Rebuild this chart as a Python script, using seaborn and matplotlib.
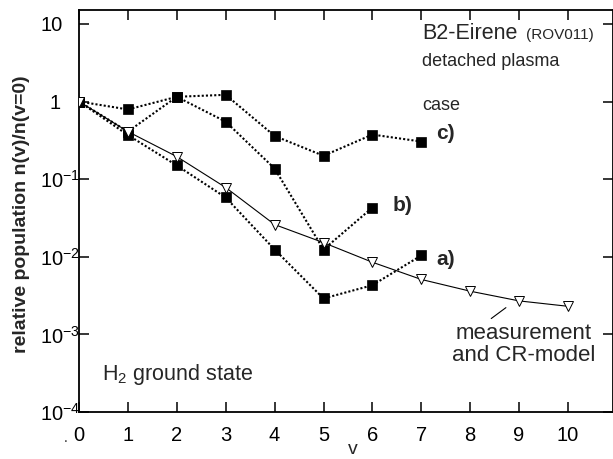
import numpy as np
import pandas as pd
import matplotlib
matplotlib.use("Agg")
import matplotlib.pyplot as plt
import matplotlib.transforms as mtransforms
import seaborn as sns

# vibrational level v and relative populations n(v)/n(v=0)
v_levels = list(range(11))
case_a = [1.0, 0.37, 0.150, 0.058, 0.0124, 0.0029, 0.0043, 0.0104]
case_b = [1.0, 0.41, 1.15, 0.55, 0.137, 0.0124, 0.043]
case_c = [1.0, 0.79, 1.15, 1.22, 0.36, 0.20, 0.375, 0.305]
cr_model = [1.0, 0.41, 0.195, 0.078, 0.026, 0.0152, 0.0085, 0.0051, 0.0036, 0.0027, 0.0023]

y_ticks = [1e-4, 1e-3, 1e-2, 1e-1, 1, 10]
y_tick_labels = ["10$^{-4}$", "10$^{-3}$", "10$^{-2}$", "10$^{-1}$", "1", "10"]
x_ticks = list(range(11))

sns.set_theme(style="ticks")
plt.rcParams["font.family"] = ["Liberation Sans", "DejaVu Sans"]
plt.rcParams["mathtext.fontset"] = "custom"
plt.rcParams["mathtext.rm"] = "Liberation Sans"
plt.rcParams["mathtext.it"] = "Liberation Sans:italic"
plt.rcParams["mathtext.bf"] = "Liberation Sans:bold"

fig = plt.figure(figsize=(6.13, 4.59), dpi=100)
ax = fig.add_axes([79 / 613, 47 / 459, 534 / 613, 402 / 459])

dotted = (0, (1, 1))
for vals in (case_a, case_b, case_c):
    df = pd.DataFrame({"v": v_levels[:len(vals)], "pop": vals})
    sns.lineplot(data=df, x="v", y="pop", ax=ax, color="black", linewidth=1.5,
                 linestyle=dotted, marker="s", markersize=6.5,
                 markerfacecolor="black", markeredgecolor="black",
                 markeredgewidth=0.5, sort=False, estimator=None, zorder=2)

df_cr = pd.DataFrame({"v": v_levels, "pop": cr_model})
sns.lineplot(data=df_cr, x="v", y="pop", ax=ax, color="black", linewidth=0.8,
             marker="v", markersize=7, markerfacecolor="white",
             markeredgecolor="black", markeredgewidth=0.7,
             sort=False, estimator=None, zorder=3)

ax.set_yscale("log")
ax.set_xlim(0, 10.92)
ax.set_ylim(1e-4, 15.1)
ax.set_xticks(x_ticks)
ax.set_xticklabels([str(t) for t in x_ticks])
ax.set_yticks(y_ticks)
ax.set_yticklabels(y_tick_labels)
ax.yaxis.set_minor_locator(matplotlib.ticker.NullLocator())

ax.tick_params(axis="both", which="major", direction="in", length=7, width=1.1,
               top=True, right=True, labelsize=14.5, colors="black")
ax.tick_params(axis="x", pad=10)
ax.tick_params(axis="y", pad=28)
for lab in ax.get_yticklabels():
    lab.set_horizontalalignment("left")
    if lab.get_text() == "1":
        lab.set_transform(lab.get_transform() +
                          mtransforms.ScaledTranslation(0.09, 0, fig.dpi_scale_trans))
for sp in ax.spines.values():
    sp.set_linewidth(1.3)
    sp.set_color("black")

ax.set_xlabel("v", fontsize=14)
ax.xaxis.set_label_coords(0.513, -0.104)
ax.xaxis.label.set_va("baseline")
ax.set_ylabel("relative population n(v)/n(v=0)", fontsize=14, fontweight="bold")
ax.yaxis.set_label_coords(-0.107, 0.4925)
ax.yaxis.label.set_va("center")

# annotations
ax.text(7.02, 6.48, "B2-Eirene", fontsize=15.5, va="baseline", ha="left")
ax.text(9.14, 6.48, "(ROV011)", fontsize=11, va="baseline", ha="left")
ax.text(7.02, 2.83, "detached plasma", fontsize=13, va="baseline", ha="left")
ax.text(7.02, 0.789, "case", fontsize=13, va="baseline", ha="left")
ax.text(7.31, 0.387, "c)", fontsize=15, fontweight="bold", va="center", ha="left")
ax.text(6.41, 0.0457, "b)", fontsize=15, fontweight="bold", va="center", ha="left")
ax.text(7.31, 0.0092, "a)", fontsize=15, fontweight="bold", va="center", ha="left")
ax.text(9.1, 7.4e-4, "measurement\nand CR-model", fontsize=16, va="center",
        ha="center", linespacing=1.05)
ax.plot([8.43, 8.73], [1.6e-3, 2.21e-3], color="black", linewidth=0.8)
ax.text(0.47, 3.03e-4, "H$_2$ ground state", fontsize=15.5, va="center", ha="left")
fig.text(64 / 613, 1 - 442 / 459, ".", fontsize=10)

fig.savefig("out.png", dpi=100)
